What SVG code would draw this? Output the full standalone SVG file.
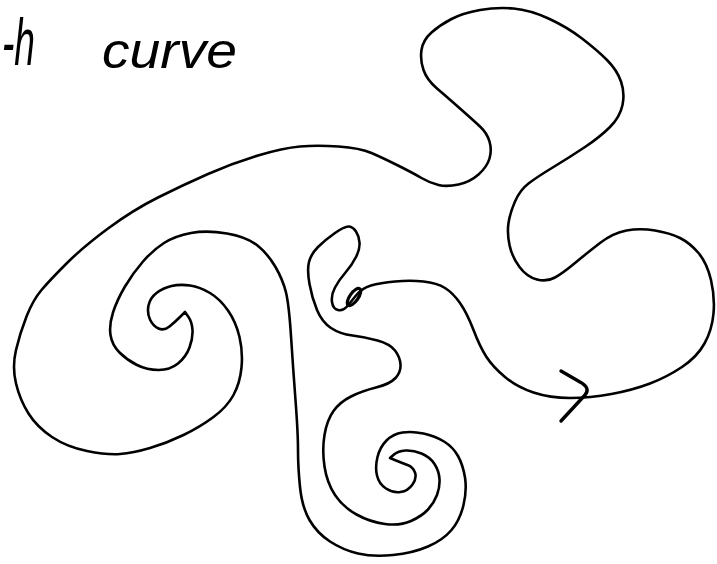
<svg xmlns="http://www.w3.org/2000/svg" width="717" height="564" viewBox="0 0 717 564">
<style>
.ink{fill:none;stroke:#000;stroke-linecap:round;stroke-linejoin:round}
.hand{font-family:"Liberation Sans","DejaVu Sans",sans-serif;font-style:italic;fill:#000}
</style>
<rect width="717" height="564" fill="#fff"/>
<g id="title">
<text class="hand" x="2" y="65" font-size="66" textLength="33" lengthAdjust="spacingAndGlyphs">-h</text>
<text class="hand" x="102" y="68" font-size="50" textLength="135" lengthAdjust="spacingAndGlyphs">curve</text>
</g>
<g id="curve">
<path class="ink" stroke-width="2.6" d="M371,285.5
Q380,283 395,281.5 Q410,280 423.5,281.5 Q437,283 445,288 Q453,293 460,303 Q467,313 473.5,330 Q480,347 486.5,357 Q493,367 505,377 Q517,387 533.5,392.5 Q550,398 570,398 Q590,398 611.5,394 Q633,390 650,383.5 Q667,377 682,367 Q697,357 704.5,343.5 Q712,330 713.5,313.5 Q715,297 711,280 Q707,263 698.5,253 Q690,243 680,238 Q670,233 655,230.5 Q640,228 626.5,230.5 Q613,233 600,243 Q587,253 575,263 Q563,273 555,277.5 Q547,282 537,279.5 Q527,277 519.5,267 Q512,257 509.5,245 Q507,233 508.5,223 Q510,213 515,201.5 Q520,190 528.5,183.5 Q537,177 553.5,167 Q570,157 585,147 Q600,137 610,127 Q620,117 622.5,105 Q625,93 621,81.5 Q617,70 607,60 Q597,50 582,38.5 Q567,27 548.5,18.5 Q530,10 513.5,8.5 Q497,7 480,10 Q463,13 451.5,19 Q440,25 431.5,32.5 Q423,40 421.5,50 Q420,60 423.5,70 Q427,80 437,88.5 Q447,97 460,108.5 Q473,120 480,126.5 Q487,133 489.5,141.5 Q492,150 489.5,158.5 Q487,167 478.5,174.5 Q470,182 458.5,184.5 Q447,187 438.5,185 Q430,183 421.5,178 Q413,173 398,165.5 Q383,158 371.5,153 Q360,148 338.5,146.5 Q317,145 300,146.5 Q283,148 258,155.5 Q233,163 208,174 Q183,185 158,197.5 Q133,210 108,228.5 Q83,247 66.5,263.5 Q50,280 41.5,290 Q33,300 26.5,316.5 Q20,333 16,350 Q12,367 16,383.5 Q20,400 28.5,413.5 Q37,427 52,437 Q67,447 87,451 Q107,455 120,454 Q133,453 150,448 Q167,443 183.5,435 Q200,427 213.5,417 Q227,407 233.5,395 Q240,383 241.5,367.5 Q243,352 239.5,337 Q236,322 228,310.5 Q220,299 210,293 Q200,287 190,285.5 Q180,284 171.5,286 Q163,288 156.5,293 Q150,298 148.5,305.5 Q147,313 150,319.5 Q153,326 158.5,328.5 Q164,331 169.5,326.5 Q175,322 180,317
L185,312 L188.5,317
Q192,322 192.5,330 Q193,338 189.5,347.5 Q186,357 178,363.5 Q170,370 158.5,370 Q147,370 137,365 Q127,360 119.5,352.5 Q112,345 110.5,335 Q109,325 113,312.5 Q117,300 125,286.5 Q133,273 143,261.5 Q153,250 164,243 Q175,236 191,233 Q207,230 227,233.5 Q247,237 257.5,245.5 Q268,254 275.5,267 Q283,280 286,292.5 Q289,305 291,336 Q293,367 295.5,400 Q298,433 298,450 Q298,467 300,487 Q302,507 309.5,520 Q317,533 330,541.5 Q343,550 358,553.5 Q373,557 393,555 Q413,553 428,546.5 Q443,540 451.5,530 Q460,520 463.5,505 Q467,490 465,477.5 Q463,465 458,456 Q453,447 444,441.5 Q435,436 423.5,433.5 Q412,431 402.5,432.5 Q393,434 386.5,440.5 Q380,447 377.5,457 Q375,467 377,475.5 Q379,484 386,488.5 Q393,493 400.5,492 Q408,491 412.5,484.5 Q417,478 415,472.5 Q413,467 407.5,465 Q402,463 396,460.5
L390,458 L394,454.5
Q398,451 405.5,450.5 Q413,450 421.5,453.5 Q430,457 434.5,464 Q439,471 439.5,479 Q440,487 437,495 Q434,503 428,509.5 Q422,516 411,521 Q400,526 385,524 Q370,522 356.5,514.5 Q343,507 335,495 Q327,483 324.5,466.5 Q322,450 324.5,435 Q327,420 333.5,411 Q340,402 351,396.5 Q362,391 376,387.5 Q390,384 395.5,378 Q401,372 400.5,364.5 Q400,357 395,350.5 Q390,344 377.5,340.5 Q365,337 352.5,335.5 Q340,334 331,328 Q322,322 317,310 Q312,298 309.5,284 Q307,270 309,262 Q311,254 318,247 Q325,240 335,233 Q345,226 349,226.5 Q353,227 356,231.5 Q359,236 359.5,242.5 Q360,249 356,257 Q352,265 345.5,272.5 Q339,280 335,287.5 Q331,295 332,302 Q333,309 338,310 Q343,311 346.5,307 Q350,303 356,295.5 Q362,288 371,285.5 Z"/>
<ellipse class="ink" cx="354" cy="297" rx="10" ry="4.2" stroke-width="3.2" transform="rotate(-55 354 297)"/>
<path id="arrowhead" class="ink" stroke-width="3.4" d="M561,371 L580,382 Q591,388 585,395 L561,421"/>
</g>
</svg>
